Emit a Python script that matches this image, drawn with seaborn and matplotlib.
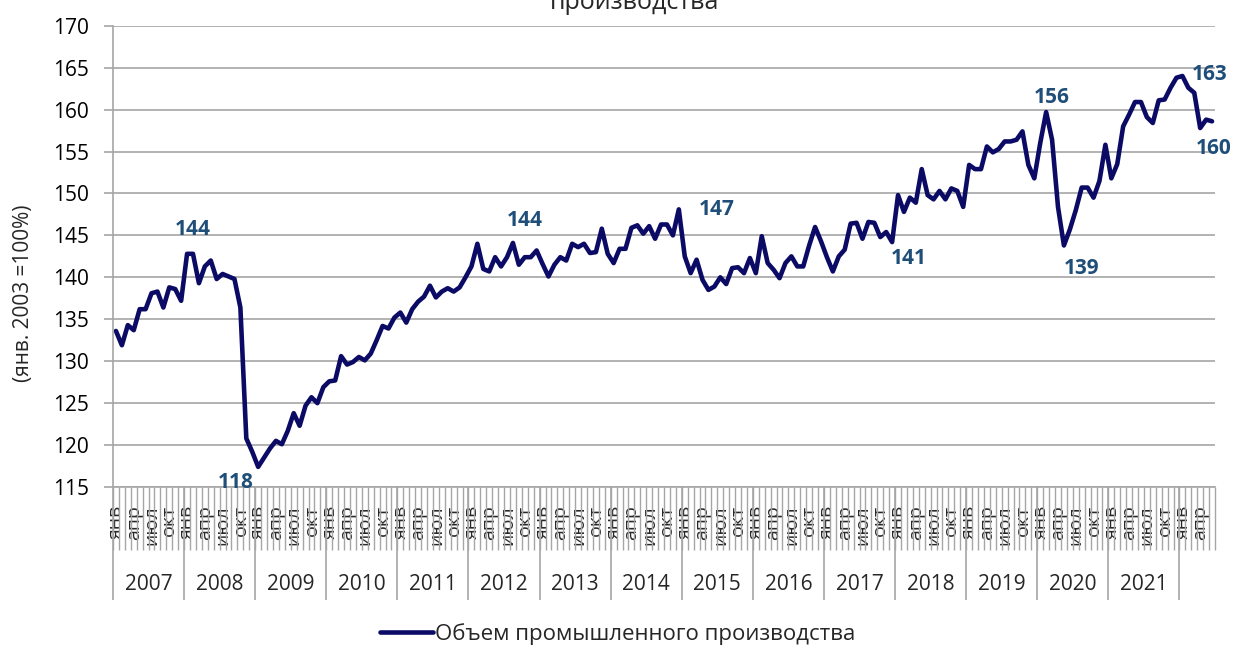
import numpy as np
import pandas as pd
import seaborn as sns
import matplotlib.pyplot as plt

# индекс промышленного производства, янв. 2003 = 100%, помесячно с янв. 2007
ipp = [
    133.6, 131.9, 134.3, 133.7, 136.2, 136.2, 138.1, 138.3, 136.4, 138.8, 138.6, 137.2,  # 2007
    142.8, 142.8, 139.3, 141.3, 142.0, 139.8, 140.4, 140.1, 139.8, 136.4, 120.8, 119.2,  # 2008
    117.4, 118.5, 119.6, 120.5, 120.1, 121.7, 123.8, 122.3, 124.7, 125.7, 125.0, 126.9,  # 2009
    127.6, 127.7, 130.6, 129.6, 129.9, 130.5, 130.1, 130.9, 132.5, 134.2, 133.9, 135.2,  # 2010
    135.8, 134.6, 136.2, 137.1, 137.7, 139.0, 137.6, 138.3, 138.7, 138.3, 138.8, 140.0,  # 2011
    141.3, 144.0, 141.0, 140.7, 142.4, 141.3, 142.4, 144.1, 141.5, 142.4, 142.4, 143.2,  # 2012
    141.6, 140.1, 141.5, 142.4, 142.0, 144.0, 143.6, 144.0, 142.9, 143.0, 145.8, 142.8,  # 2013
    141.7, 143.4, 143.4, 145.9, 146.2, 145.2, 146.1, 144.6, 146.3, 146.3, 145.0, 148.1,  # 2014
    142.5, 140.5, 142.1, 139.7, 138.5, 138.9, 140.0, 139.2, 141.1, 141.2, 140.5, 142.3,  # 2015
    140.5, 144.9, 141.7, 140.9, 139.9, 141.7, 142.5, 141.3, 141.3, 143.8, 146.0, 144.3,  # 2016
    142.4, 140.7, 142.5, 143.3, 146.4, 146.5, 144.6, 146.6, 146.5, 144.8, 145.4, 144.2,  # 2017
    149.8, 147.8, 149.5, 148.9, 152.9, 149.8, 149.3, 150.3, 149.3, 150.6, 150.3, 148.4,  # 2018
    153.4, 152.9, 152.9, 155.6, 154.9, 155.3, 156.2, 156.2, 156.4, 157.4, 153.4, 151.8,  # 2019
    156.0, 159.7, 156.4, 148.4, 143.8, 145.7, 148.0, 150.7, 150.7, 149.5, 151.5, 155.8,  # 2020
    151.8, 153.5, 158.0, 159.4, 160.9, 160.9, 159.1, 158.4, 161.1, 161.2, 162.6, 163.8,  # 2021
    164.0, 162.6, 162.0, 157.8, 158.8, 158.6,                                            # 2022
]
years = list(range(2007, 2023))
year_labels = [str(y) for y in range(2007, 2022)] + [""]
month_labels = ["янв", "апр", "июл", "окт"]

# подписи данных: (номер месяца, текст, сдвиг в пикселях)
data_labels = [
    (12, "144", 6, 24), (24, "118", -22, -16), (67, "144", 12, 22),
    (95, "147", 38, 0), (131, "141", 17, -16), (157, "156", 6, 15),
    (160, "139", 18, -23), (180, "163", 27, 2), (185, "160", 2, -27),
]

df = pd.DataFrame({"month": np.arange(len(ipp)), "value": ipp})

sns.set_theme(style="white")
plt.rcParams["font.family"] = ["Open Sans", "DejaVu Sans"]

line_color = "#0B0B66"
grid_color = "#A6A6A6"
label_color = "#1F4E79"

fig = plt.figure(figsize=(12.35, 6.46), dpi=100)
ax = fig.add_axes([113 / 1235, 1 - 487 / 646, 1102 / 1235, (487 - 25.7) / 646])

sns.lineplot(data=df, x="month", y="value", ax=ax, color=line_color,
             linewidth=3.3, label="Объем промышленного производства")

n = len(ipp)
ax.set_xlim(-0.5, n - 0.5)
ax.set_ylim(115, 170)
ax.set_yticks(np.arange(115, 171, 5))
ax.yaxis.grid(True, color=grid_color, linewidth=1.2)
ax.set_axisbelow(True)
ax.tick_params(axis="y", labelsize=15, length=6.5, width=1.2, color=grid_color,
               pad=11, left=True, labelcolor="black")

# подписи месяцев
pos = [i for i in range(n) if i % 3 == 0]
ax.set_xticks(pos)
ax.set_xticklabels([month_labels[(i % 12) // 3] for i in pos], rotation=90)
ax.tick_params(axis="x", which="major", length=0, labelsize=14, pad=13)
ax.set_xticks(np.arange(n + 1) - 0.5, minor=True)
ax.tick_params(axis="x", which="minor", length=45, width=1, color=grid_color,
               bottom=True)

# разделители лет и подписи лет
ax_h = 487 - 25.7
starts = [12 * (y - 2007) - 0.5 for y in years]
ax.vlines(starts, 0, -113 / ax_h, transform=ax.get_xaxis_transform(),
          color=grid_color, linewidth=1.2, clip_on=False)
for s, lab in zip(starts, year_labels):
    ax.text(s + 6, -98 / ax_h, lab, transform=ax.get_xaxis_transform(),
            ha="center", va="center", fontsize=15)

for side in ["top", "right"]:
    ax.spines[side].set_visible(False)
for side in ["left", "bottom"]:
    ax.spines[side].set_color(grid_color)
    ax.spines[side].set_linewidth(1.2)

ax.set_xlabel("")
ax.set_ylabel("(янв. 2003 =100%)", fontsize=15)
ax.yaxis.set_label_coords(-0.072, 0.42)

for i, txt, dx, dy in data_labels:
    ax.annotate(txt, (i, ipp[i]), xytext=(dx, dy), textcoords="offset pixels",
                ha="center", va="center", fontsize=15, fontweight="bold",
                color=label_color)

fig.text(0.514, 1 - 9 / 646, "производства", ha="center", va="baseline",
         fontsize=18)

ax.legend_.remove()
fig.legend(*ax.get_legend_handles_labels(), loc="center",
           bbox_to_anchor=(0.5, 1 - 634 / 646), frameon=False, fontsize=16,
           handlelength=2.4, handletextpad=0.1)

fig.savefig("out.png", dpi=100)
